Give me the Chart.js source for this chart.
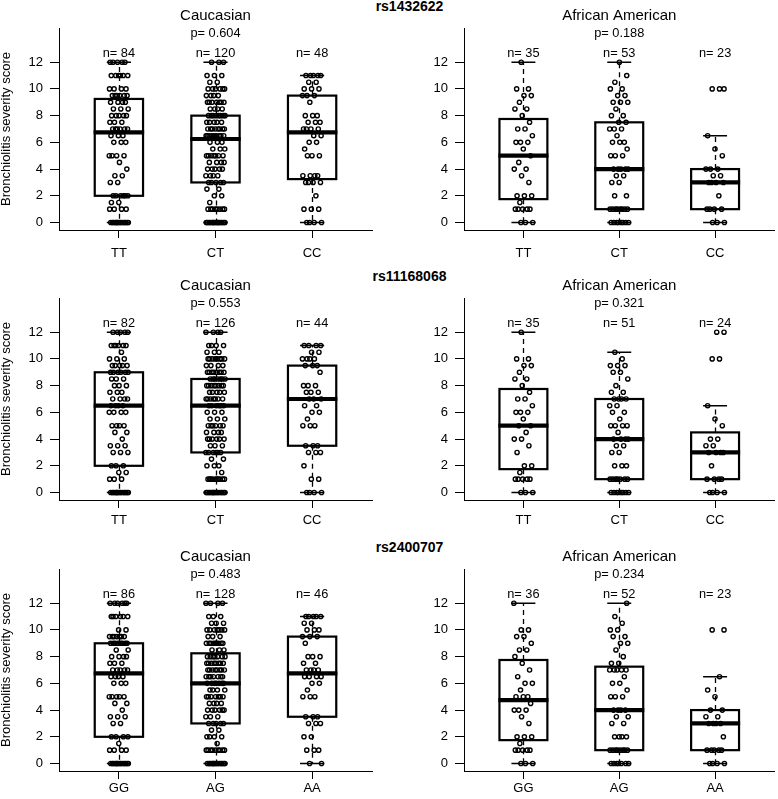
<!DOCTYPE html>
<html>
<head>
<meta charset="utf-8">
<script src="https://cdn.jsdelivr.net/npm/chart.js@4"></script>
<style>
  html, body { margin:0; padding:0; background:#fff; }
  body { width:778px; height:799px; position:relative; overflow:hidden;
         font-family:"Liberation Sans", Arial, Helvetica, sans-serif; }
  canvas { position:absolute; }
  .rowtitle { position:absolute; width:200px; text-align:center; font-weight:bold;
              font-size:14px; line-height:14px; color:#000; white-space:nowrap; }
</style>
</head>
<body>
<script>
// ---------------- data ----------------
const rowTitles = ['rs1432622', 'rs11168068', 'rs2400707'];
const rowCategories = [['TT','CT','CC'], ['TT','CT','CC'], ['GG','AG','AA']];
const panelTitles = ['Caucasian', 'African American'];
const yTicks = [0, 2, 4, 6, 8, 10, 12];
const pValues = [['0.604', '0.188'], ['0.553', '0.321'], ['0.483', '0.234']];

const nCauc1 = [84, 120, 48],  nAfr1 = [35, 53, 23];
const nCauc2 = [82, 126, 44],  nAfr2 = [35, 51, 24];
const nCauc3 = [86, 128, 46],  nAfr3 = [36, 52, 23];

// box statistics per group: [lower whisker, Q1, median, Q3, upper whisker]
const boxCauc1 = [[0,2,6.75,9.25,12],[0,3,6.25,8,12],[0,3.25,6.75,9.5,11]];
const boxAfr1  = [[0,1.75,5,7.75,12],[0,1,4,7.5,12],[0,1,3,4,6.5]];
const boxCauc2 = [[0,2,6.5,9,12],[0,3,6.5,8.5,12],[0,3.5,7,9.5,11]];
const boxAfr2  = [[0,1.75,5,7.75,12],[0,1,4,7,10.5],[0,1,3,4.5,6.5]];
const boxCauc3 = [[0,2,6.75,9,12],[0,3,6,8.25,12],[0,3.5,6.75,9.5,11]];
const boxAfr3  = [[0,1.75,4.75,7.75,12],[0,1,4,7.25,12],[0,1,3,4,6.5]];

// individual scores per group: {score: number of subjects}
const cauc1_TT = {0:14,1:4,1.5:2,2:6,3:2,3.5:2,4:1,4.5:1,5:4,6:3,6.5:3,7:6,7.5:3,8:5,8.5:3,9:4,9.5:6,10:4,11:6,12:5};
const cauc1_CT = {0:16,1:8,1.5:1,2:2,2.5:2,3:5,3.5:4,4:5,4.5:4,5:7,5.5:3,6:3,6.5:10,7:8,7.5:5,8:8,8.5:4,9:7,9.5:4,10:6,10.5:2,11:3,12:3};
const cauc1_CC = {0:4,1:3,2:1,3:4,3.5:4,5:3,5.5:1,6:2,6.5:2,7:4,7.5:3,8:3,9:1,9.5:3,10:3,10.5:2,11:5};
const afr1_TT  = {0:3,1:5,1.5:1,2:3,3:1,3.5:1,4:2,4.5:1,5:1,5.5:1,6:3,6.5:1,7:2,7.5:1,8:1,8.5:2,9:1,9.5:2,10:2,12:1};
const afr1_CT  = {0:8,1:8,2:2,3:2,3.5:2,4:5,5:3,5.5:1,6:3,6.5:1,7:3,7.5:2,8:2,8.5:1,9:3,9.5:2,10:2,10.5:1,11:1,12:1};
const afr1_CC  = {0:3,1:4,2:1,3:4,3.5:2,4:3,5:1,5.5:1,6.5:1,10:3};

const cauc2_TT = {0:14,1:3,1.5:2,2:3,3:3,3.5:3,4:1,4.5:2,5:4,6:4,6.5:4,7:4,7.5:3,8:3,8.5:3,9:6,9.5:5,10:3,10.5:1,11:6,12:5};
const cauc2_CT = {0:15,1:10,1.5:1,2:3,2.5:2,3:6,3.5:3,4:6,4.5:4,5:6,5.5:3,6:3,6.5:6,7:7,7.5:5,8:8,8.5:7,9:8,9.5:4,10:8,10.5:3,11:4,12:4};
const cauc2_CC = {0:4,1:2,2:1,3:3,3.5:3,5:3,5.5:1,6:2,6.5:2,7:3,7.5:3,8:3,9:1,9.5:3,10:4,10.5:2,11:4};
const afr2_TT  = {0:3,1:5,1.5:1,2:2,3:1,3.5:1,4:2,4.5:1,5:2,5.5:1,6:3,6.5:1,7:2,7.5:1,8:1,8.5:2,9:1,9.5:2,10:2,12:1};
const afr2_CT  = {0:8,1:7,2:3,3:2,3.5:2,4:4,4.5:1,5:4,5.5:1,6:2,6.5:2,7:4,7.5:2,8:1,8.5:1,9:2,9.5:3,10:1,10.5:1};
const afr2_CC  = {0:4,1:4,2:1,3:4,3.5:2,4:2,5:1,5.5:1,6.5:1,10:2,12:2};

const cauc3_GG = {0:14,1:4,1.5:1,2:4,3:2,3.5:3,4:1,4.5:2,5:5,6:3,6.5:4,7:5,7.5:3,8:4,8.5:2,9:8,9.5:7,10:2,11:6,12:6};
const cauc3_AG = {0:14,1:9,1.5:1,2:4,2.5:2,3:5,3.5:3,4:6,4.5:4,5:7,5.5:4,6:7,6.5:7,7:8,7.5:8,8:7,8.5:3,9:9,9.5:3,10:7,10.5:3,11:3,12:4};
const cauc3_AA = {0:2,1:3,2:2,3:3,3.5:3,5:3,5.5:1,6:2,6.5:4,7:4,7.5:2,8:3,9:1,9.5:3,10:3,10.5:2,11:5};
const afr3_GG  = {0:3,1:5,1.5:1,2:3,3:1,3.5:1,4:3,4.5:1,5:3,5.5:1,6:2,6.5:1,7:1,7.5:1,8:1,8.5:2,9:1,9.5:2,10:2,12:1};
const afr3_AG  = {0:7,1:8,2:4,3:2,3.5:2,4:4,5:3,5.5:1,6:2,6.5:1,7:5,7.5:2,8:1,8.5:1,9:2,9.5:2,10:2,10.5:1,11:1,12:1};
const afr3_AA  = {0:4,1:5,2:1,3:4,3.5:2,4:2,5:1,5.5:1,6.5:1,10:2};

// ---------------- panels ----------------
const panels = [
  {row:0, col:0, groups:[cauc1_TT,cauc1_CT,cauc1_CC], box:boxCauc1, n:nCauc1},
  {row:0, col:1, groups:[afr1_TT,afr1_CT,afr1_CC],    box:boxAfr1,  n:nAfr1},
  {row:1, col:0, groups:[cauc2_TT,cauc2_CT,cauc2_CC], box:boxCauc2, n:nCauc2},
  {row:1, col:1, groups:[afr2_TT,afr2_CT,afr2_CC],    box:boxAfr2,  n:nAfr2},
  {row:2, col:0, groups:[cauc3_GG,cauc3_AG,cauc3_AA], box:boxCauc3, n:nCauc3},
  {row:2, col:1, groups:[afr3_GG,afr3_AG,afr3_AA],    box:boxAfr3,  n:nAfr3}
];

const FONT = '"Liberation Sans", Arial, Helvetica, sans-serif';
const ROW_TOP = [0, 270, 541];
const XLABEL_PAD = [8, 5, 1.5];
const CANVAS_W = 389, CANVAS_H = 270;

// row titles (HTML text)
rowTitles.forEach((t, r) => {
  const d = document.createElement('div');
  d.className = 'rowtitle';
  d.textContent = t;
  d.style.left = (409.5 - 100) + 'px';
  d.style.top = (ROW_TOP[r] - 1) + 'px';
  document.body.appendChild(d);
});

const boxPlugin = {
  id: 'boxes',
  beforeDatasetsDraw(chart) {
    const p = chart.options.plugins.boxes;
    const ctx = chart.ctx, xs = chart.scales.x, ys = chart.scales.y;
    ctx.save();
    ctx.strokeStyle = '#000';
    p.box.forEach((b, i) => {
      const [lo, q1, med, q3, hi] = b;
      const c = i + 1;
      const xl = xs.getPixelForValue(c - 0.25), xr = xs.getPixelForValue(c + 0.25);
      const xcl = xs.getPixelForValue(c - 0.125), xcr = xs.getPixelForValue(c + 0.125);
      const xc = Math.round(xs.getPixelForValue(c)) + 0.5;
      // whiskers
      ctx.lineWidth = 1.3;
      ctx.setLineDash([5, 4]);
      ctx.beginPath();
      ctx.moveTo(xc, ys.getPixelForValue(q3)); ctx.lineTo(xc, ys.getPixelForValue(hi));
      ctx.moveTo(xc, ys.getPixelForValue(q1)); ctx.lineTo(xc, ys.getPixelForValue(lo));
      ctx.stroke();
      ctx.setLineDash([]);
      // staples
      ctx.lineWidth = 1.4;
      ctx.beginPath();
      ctx.moveTo(xcl, ys.getPixelForValue(hi)); ctx.lineTo(xcr, ys.getPixelForValue(hi));
      ctx.moveTo(xcl, ys.getPixelForValue(lo)); ctx.lineTo(xcr, ys.getPixelForValue(lo));
      ctx.stroke();
      // box
      ctx.lineWidth = 2.2;
      const yt = ys.getPixelForValue(q3), yb = ys.getPixelForValue(q1);
      ctx.strokeRect(xl, yt, xr - xl, yb - yt);
      // median
      ctx.lineWidth = 4.2;
      ctx.lineCap = 'butt';
      ctx.beginPath();
      const ym = ys.getPixelForValue(med);
      ctx.moveTo(xl - 1.1, ym); ctx.lineTo(xr + 1.1, ym);
      ctx.stroke();
    });
    ctx.restore();
  },
  afterDraw(chart) {
    const p = chart.options.plugins.boxes;
    const ctx = chart.ctx, xs = chart.scales.x, ca = chart.chartArea;
    ctx.save();
    ctx.fillStyle = '#000';
    ctx.textAlign = 'center';
    ctx.textBaseline = 'alphabetic';
    ctx.font = '15px ' + FONT;
    ctx.fillText(p.title, (ca.left + ca.right) / 2, ca.top - 8.3);
    ctx.font = '12.8px ' + FONT;
    ctx.fillText('p= ' + p.pval, xs.getPixelForValue(2), ca.top + 9.3);
    p.n.forEach((n, i) => ctx.fillText('n= ' + n, xs.getPixelForValue(i + 1), ca.top + 29.3));
    ctx.restore();
  }
};

panels.forEach(pn => {
  const cv = document.createElement('canvas');
  cv.width = CANVAS_W; cv.height = CANVAS_H;
  cv.style.width = CANVAS_W + 'px'; cv.style.height = CANVAS_H + 'px';
  cv.style.left = (pn.col * 389) + 'px';
  cv.style.top = ROW_TOP[pn.row] + 'px';
  document.body.appendChild(cv);

  const cats = rowCategories[pn.row];
  const leftW = pn.col === 0 ? 59 : 75;
  const rightPad = pn.col === 0 ? 17 : 2;

  // points, spread horizontally around each category (deterministic jitter)
  const pts = [];
  pn.groups.forEach((g, gi) => {
    let j = 0;
    Object.keys(g).map(Number).sort((a, b) => a - b).forEach(score => {
      for (let k = 0; k < g[score]; k++) {
        const off = 0.1 * (2 * ((j * 0.6180339887 + 0.37) % 1) - 1);
        pts.push({x: gi + 1 + off, y: score});
        j++;
      }
    });
  });

  new Chart(cv, {
    type: 'scatter',
    data: { datasets: [{
      data: pts,
      pointRadius: 2.1,
      pointBorderWidth: 1.4,
      pointBorderColor: '#000',
      pointBackgroundColor: 'rgba(0,0,0,0)',
      pointHoverRadius: 2.1
    }]},
    options: {
      responsive: false,
      animation: false,
      devicePixelRatio: 1,
      events: [],
      layout: { padding: { top: 28, left: 0, right: rightPad, bottom: 0 } },
      plugins: {
        legend: { display: false },
        tooltip: { enabled: false },
        boxes: { box: pn.box, n: pn.n, title: panelTitles[pn.col], pval: pValues[pn.row][pn.col] }
      },
      scales: {
        x: {
          type: 'linear', min: 0.38, max: 3.62,
          afterBuildTicks: s => { s.ticks = [1, 2, 3].map(v => ({value: v})); },
          afterFit: s => { s.height = 40; },
          grid: { drawOnChartArea: false, drawTicks: true, tickLength: 8, color: '#000', lineWidth: 1 },
          border: { display: true, color: '#000', width: 1 },
          ticks: { callback: v => cats[Math.round(v) - 1], font: { family: FONT, size: 13 },
                   color: '#000', padding: XLABEL_PAD[pn.row], maxRotation: 0, autoSkip: false }
        },
        y: {
          type: 'linear', min: -0.56, max: 14.56,
          afterBuildTicks: s => { s.ticks = yTicks.map(v => ({value: v})); },
          afterFit: s => { s.width = leftW; },
          grid: { drawOnChartArea: false, drawTicks: true, tickLength: 9, color: '#000', lineWidth: 1 },
          border: { display: true, color: '#000', width: 1 },
          ticks: { callback: v => String(v), font: { family: FONT, size: 13 }, color: '#000', padding: 7 },
          title: { display: pn.col === 0, text: 'Bronchiolitis severity score',
                   font: { family: FONT, size: 13, lineHeight: 1 }, color: '#000', padding: 0 }
        }
      }
    },
    plugins: [boxPlugin]
  });
});
</script>
</body>
</html>
